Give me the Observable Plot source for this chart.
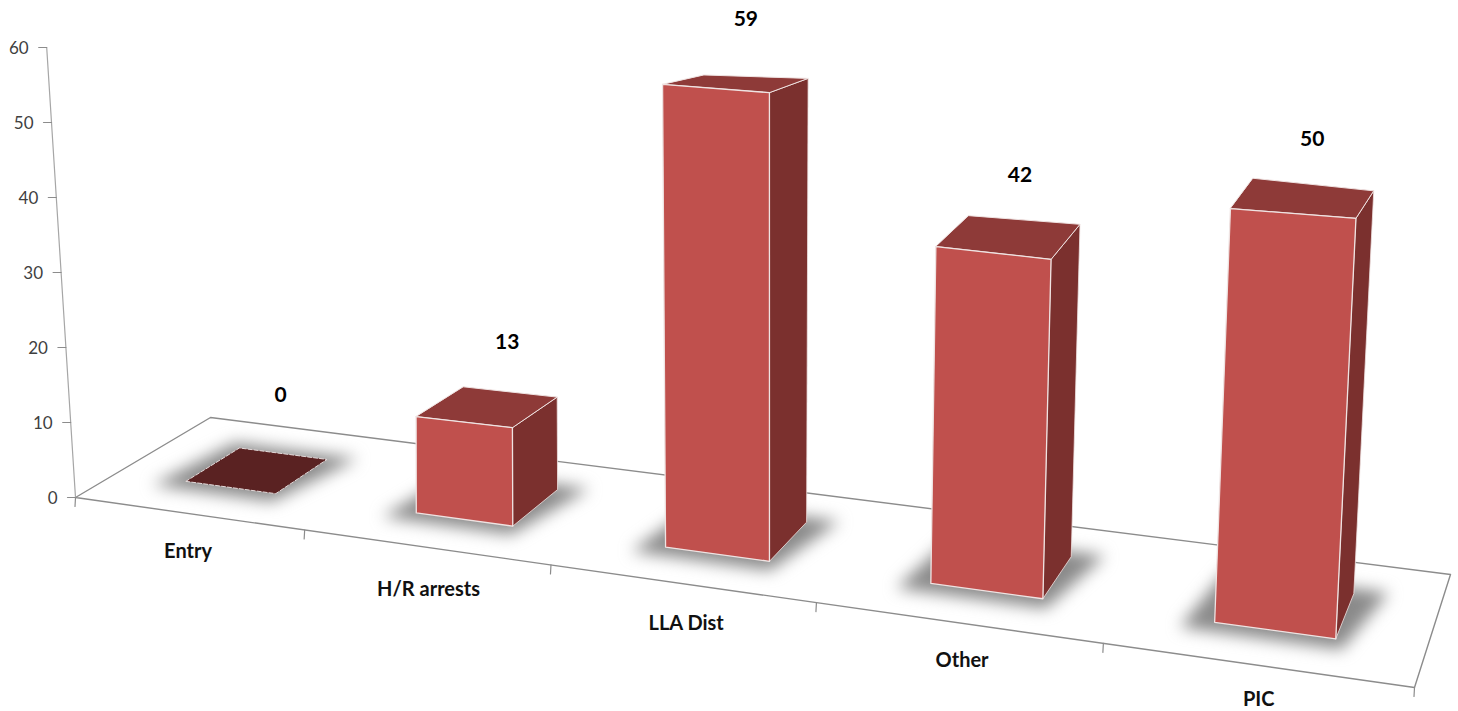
<!DOCTYPE html>
<html><head><meta charset="utf-8">
<script src="https://cdn.jsdelivr.net/npm/d3@7"></script>
<script src="https://cdn.jsdelivr.net/npm/@observablehq/plot@0.6"></script>
<style>
html,body{margin:0;padding:0;background:#fff}
.shadow{filter:blur(8px)}
</style></head><body>
<div id="chart"></div>
<script>
const categories = ["Entry","H/R arrests","LLA Dist","Other","PIC"];
const values = [0,13,59,42,50];
const yTicks = [0,10,20,30,40,50,60];

// camera: floor quad (front-left, front-right, back-right, back-left)
const Q = [[75,497],[1414,687],[1450,574],[210,417]];
function homography(Q){
  const [[x0,y0],[x1,y1],[x2,y2],[x3,y3]] = Q;
  const dx1=x1-x2,dx2=x3-x2,sx=x0-x1+x2-x3,dy1=y1-y2,dy2=y3-y2,sy=y0-y1+y2-y3;
  const den=dx1*dy2-dx2*dy1;
  const g=(sx*dy2-dx2*sy)/den,h=(dx1*sy-sx*dy1)/den;
  const a=x1-x0+g*x1,b=x3-x0+h*x3,d=y1-y0+g*y1,e=y3-y0+h*y3;
  return (s,t)=>{const w=g*s+h*t+1;return [(a*s+b*t+x0)/w,(d*s+e*t+y0)/w];};
}
const floor = homography(Q);
const lean = d3.scaleLinear().domain([75,416,665,770,931,1335]).range([-.064,-.002,-.0065,0,.015,.048]);
const unit = d3.scaleLinear().domain([488,520,548,560,597,637]).range([7.1,7.5,7.86,7.94,8.07,8.4]);
const wallUnit = 7.5;
function P(s,t,v,u){
  const [fx,fy]=floor(s,t);
  const h=v*(u===undefined?unit(fy):u);
  return {x:fx+lean(fx)*h,y:fy-h};
}
const halfW=.04, t0=.30, t1=.71;
const poly=(id,corners)=>corners.map(c=>({id,...P(...c)}));
const centre=i=>(i+.5)/5;
const shift=i=>[.0015,.0022,.0043,.004,.002][i];
const faces={front:[],side:[],top:[],flat:[],shadow:[]};
values.forEach((v,i)=>{
  const s=centre(i)+shift(i),a=s-halfW,b=s+halfW;
  faces.shadow.push(...poly("sh"+i,[[a-.02,t0-.08,0],[b+.006,t0-.08,0],[b+.022,t1+.05,0],[a-.01,t1+.05,0]]));
  if(v===0){ faces.flat.push(...poly("f"+i,[[a,t0,0],[b,t0,0],[b,t1,0],[a,t1,0]])); return; }
  faces.side.push(...poly("s"+i,[[b,t0,0],[b,t1,0],[b,t1,v],[b,t0,v]]));
  faces.top.push(...poly("t"+i,[[a,t0,v],[b,t0,v],[b,t1,v],[a,t1,v]]));
  faces.front.push(...poly("n"+i,[[a,t0,0],[b,t0,0],[b,t0,v],[a,t0,v]]));
});
const floorOutline=[[0,0],[1,0],[1,1],[0,1]].map(c=>P(c[0],c[1],0));
const wall=[P(0,0,0,wallUnit),P(0,0,60,wallUnit)];
const yTickRows=yTicks.flatMap(v=>{const p=P(0,0,v,wallUnit);return [{id:v,x:p.x-8,y:p.y},{id:v,x:p.x,y:p.y}];});
const xTickRows=d3.range(0,6).flatMap(k=>{const p=P(k/5,0,0);return [{id:k,x:p.x,y:p.y},{id:k,x:p.x-.5,y:p.y+9}];});
const yLabels=yTicks.map(v=>{const p=P(0,0,v,wallUnit);return {t:String(v),x:p.x-18,y:p.y+1};});
const catLabels=categories.map((c,i)=>{const p=P(centre(i),0,0);return {t:c,x:p.x+[0,3,5,5,3][i],y:p.y+38+[0,4,2,0,-3][i]};});
const valLabels=values.map((v,i)=>{const p=P(centre(i)+shift(i),(t0+t1)/2,v+7.5);return {t:String(v),x:p.x+[25,20,10,10,6.5][i],y:p.y+[-23.5,-10,-5,0,0][i]};});

const axisGrey="#8c8c8c", edge="#efe3e2", font="Lato, 'Open Sans', sans-serif";
const closed=(rows,o)=>Plot.line(rows,{x:"x",y:"y",z:"id",curve:"linear-closed",...o});
const chart=Plot.plot({
  width:1458,height:711,
  marginTop:0,marginRight:0,marginBottom:0,marginLeft:0,
  x:{domain:[0,1458],range:[0,1458],axis:null},
  y:{domain:[0,711],range:[0,711],axis:null},
  style:{background:"#fff"},
  marks:[
    closed(floorOutline.map(d=>({...d,id:"floor"})),{fill:"#fff",stroke:axisGrey,strokeWidth:1.4}),
    Plot.line(wall,{x:"x",y:"y",stroke:"#a6a6a6",strokeWidth:1.2}),
    Plot.line(yTickRows,{x:"x",y:"y",z:"id",stroke:axisGrey,strokeWidth:1.2}),
    Plot.line(xTickRows,{x:"x",y:"y",z:"id",stroke:axisGrey,strokeWidth:1.2}),
    closed(faces.shadow,{fill:"#8a8a8a",className:"shadow"}),
    closed(faces.flat,{fill:"#5a2222",stroke:"#e3d9d9",strokeWidth:1,strokeDasharray:"4 2"}),
    closed(faces.side,{fill:"#7b302e",stroke:edge,strokeWidth:.8}),
    closed(faces.top,{fill:"#8e3a38",stroke:edge,strokeWidth:1}),
    closed(faces.front,{fill:"#c0504d",stroke:edge,strokeWidth:1.3}),
    Plot.text(yLabels,{x:"x",y:"y",text:"t",textAnchor:"end",fontFamily:font,fontSize:17,fill:"#3f3f3f"}),
    Plot.text(catLabels,{x:"x",y:"y",text:"t",fontFamily:font,fontSize:20,fontWeight:"bold",fill:"#111"}),
    Plot.text(valLabels,{x:"x",y:"y",text:"t",fontFamily:font,fontSize:21,fontWeight:"bold",fill:"#000"})
  ]
});
document.getElementById("chart").appendChild(chart);
</script></body></html>
